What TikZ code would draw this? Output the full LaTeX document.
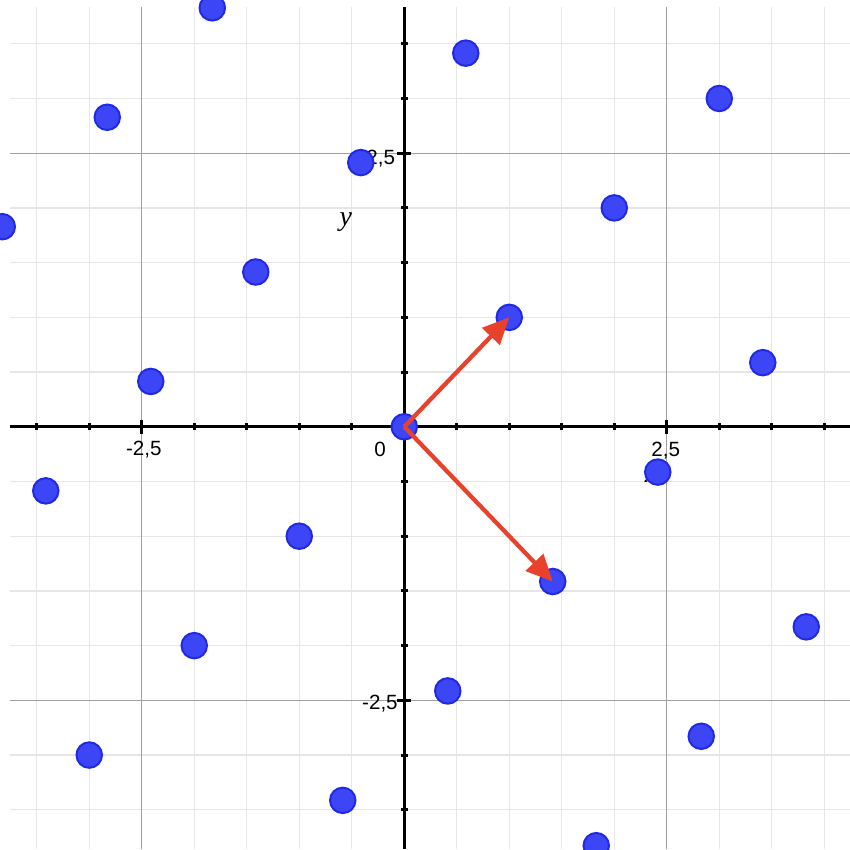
\documentclass[tikz,border=0pt]{standalone}
\usepackage{fontspec}
\setmainfont{Liberation Sans}
\newfontfamily\labelfont{Liberation Serif}
\usepackage{tikz}
\usetikzlibrary{arrows.meta}
\definecolor{latblue}{RGB}{60,70,246}
\definecolor{latedge}{RGB}{32,42,228}
\definecolor{vecred}{RGB}{233,66,44}
\definecolor{gridminor}{RGB}{230,230,230}
\definecolor{gridmajor}{RGB}{160,160,160}
\tikzset{
  minorgrid/.style={draw=gridminor, line width=0.9pt},
  majorgrid/.style={draw=gridmajor, line width=0.9pt},
  axisline/.style={draw=black, line width=2.4pt},
  ticklab/.style={inner sep=0pt, font=\fontsize{15.5}{17}\selectfont},
  axislab/.style={inner sep=0pt, font=\fontsize{21}{24}\selectfont\labelfont\itshape},
  lattpt/.style={circle, draw=latedge, fill=latblue, line width=1.5pt,
                 minimum size=19.2pt, inner sep=0pt},
  basisvec/.style={-{Triangle[length=20pt, width=18pt]}, line width=3.2pt, draw=vecred},
}

\begin{document}
\begin{tikzpicture}[x=2.778cm, y=2.895cm,
    minortick/.style={draw=black, line width=2.2pt},
    majortick/.style={draw=black, line width=2.4pt}]
    \useasboundingbox (-3.850,-3.860) rectangle (4.245,3.900);
    \clip (-3.850,-3.860) rectangle (4.245,3.900);
    % grid
    \foreach \gx in {-3.5,-3,...,4.01}
      \draw[minorgrid] (\gx,3.836) -- (\gx,-3.860);
    \foreach \gy in {-3.5,-3,...,3.51}
      \draw[minorgrid] (-3.755,\gy) -- (4.245,\gy);
    \foreach \g in {-2.5,2.5} {
      \draw[majorgrid] (\g,3.836) -- (\g,-3.860);
      \draw[majorgrid] (-3.755,\g) -- (4.245,\g);
    }
    % axes and ticks
    \coordinate (xl) at (-3.755,0);
    \coordinate (xr) at (4.245,0);
    \coordinate (yt) at (0,3.836);
    \coordinate (yb) at (0,-3.860);
    \draw[axisline] (xl) -- (xr);
    \draw[axisline] (yt) -- (yb);
    \foreach \t in {-3.5,-3,...,4.01}
      \draw[minortick] ([yshift=-2.6pt]\t,0) -- ([yshift=2.6pt]\t,0);
    \foreach \t in {-3.5,-3,...,3.51}
      \draw[minortick] ([xshift=-2.6pt]0,\t) -- ([xshift=2.6pt]0,\t);
    \foreach \t in {-2.5,2.5} {
      \draw[majortick] ([yshift=-5.3pt]\t,0) -- ([yshift=5.3pt]\t,0);
      \draw[majortick] ([xshift=-5.3pt]0,\t) -- ([xshift=5.3pt]0,\t);
    }
    \node[ticklab] (xm) at (-2.48,-0.21) {-2,5};
    \node[ticklab] (xp) at (2.49,-0.22) {2,5};
    \node[ticklab] (zero) at (-0.23,-0.21) {0};
    \node[ticklab, anchor=east] (yp) at (-0.085,2.45) {2,5};
    \node[ticklab, anchor=east] (ym) at (-0.06,-2.53) {-2,5};
    \node[axislab] (ylab) at (-0.556,1.87) {y};
    \node[axislab] (xlab) at (2.35,-0.455) {x};
    % lattice a*(1,1) + b*(sqrt2,-sqrt2)
    \foreach \a/\b [count=\i] in {1/-2,2/-1,3/0,0/-2,1/-1,2/0,-1/-2,0/-1,2/1,-1/-1,
                                  1/1,-2/-1,-1/0,1/2,-2/0,-1/1,0/2,-3/0,-2/1,-1/2}
      \node[lattpt] (pt\i) at ({\a+1.4142*\b},{\a-1.4142*\b}) {};
    \node[lattpt] (o) at (0,0) {};
    \node[lattpt] (e1) at (1,1) {};
    \node[lattpt] (e2) at (1.4142,-1.4142) {};
    \draw[basisvec] (o.center) -- (e1.center);
    \draw[basisvec] (o.center) -- (e2.center);
  \end{tikzpicture}
\end{document}
